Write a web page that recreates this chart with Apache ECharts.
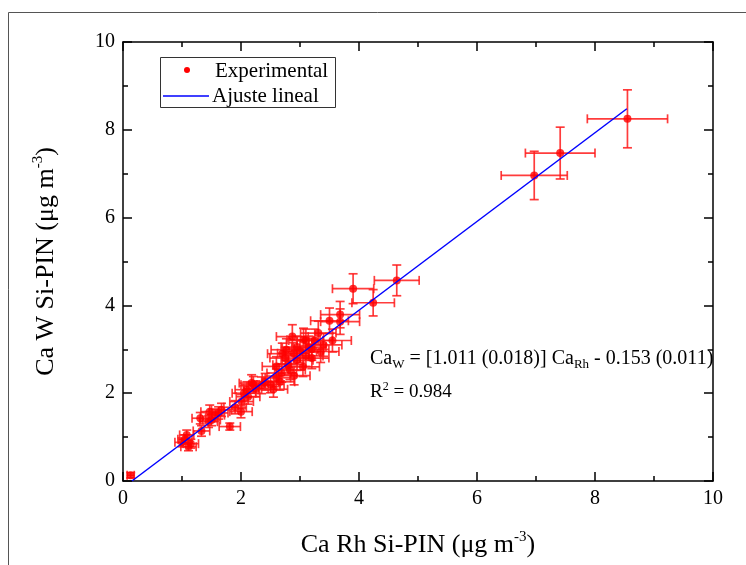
<!DOCTYPE html>
<html>
<head>
<meta charset="utf-8">
<script src="https://cdn.jsdelivr.net/npm/echarts@6/dist/echarts.min.js"></script>
<style>html,body{margin:0;padding:0;background:#fff;}#c{width:746px;height:565px;}</style>
</head>
<body>
<div id="c"></div>
<script>
// Experimental points: Ca Rh Si-PIN (x) vs Ca W Si-PIN (y), with errors
const xVals = [0.13,1.00,1.08,1.11,1.05,1.15,1.33,1.31,1.47,1.56,1.50,1.67,1.45,1.81,1.90,2.00,2.01,2.10,2.18,2.12,2.05,2.41,2.55,2.60,2.69,2.66,2.83,2.87,2.77,2.89,2.21,2.50,2.35,2.75,2.95,3.00,3.06,3.10,3.15,3.20,3.25,3.31,3.35,3.40,3.50,3.68,3.68,3.55,3.90,4.24,4.64,6.97,7.41,8.55,2.95,3.05,2.90,3.20,2.70,3.10,2.60,2.80,1.62,2.25];
const yVals = [0.13,0.88,1.05,0.78,0.95,0.85,1.14,1.43,1.58,1.50,1.39,1.62,1.35,1.24,1.68,1.58,1.81,2.08,2.23,1.92,2.00,2.26,2.09,2.61,2.46,2.26,2.53,3.29,2.99,2.91,2.19,2.20,2.18,2.80,3.05,2.95,3.22,2.85,3.05,3.00,3.20,3.37,2.95,3.10,3.65,3.79,3.63,3.20,4.38,4.06,4.57,6.96,7.47,8.25,2.75,2.60,2.40,2.80,2.90,3.20,2.35,2.65,1.55,2.10];
const xErr = [0.06,0.12,0.12,0.13,0.12,0.13,0.14,0.14,0.15,0.16,0.15,0.17,0.15,0.18,0.19,0.19,0.20,0.20,0.21,0.20,0.20,0.23,0.24,0.24,0.25,0.25,0.26,0.27,0.26,0.27,0.21,0.23,0.22,0.26,0.27,0.28,0.28,0.29,0.29,0.29,0.30,0.30,0.31,0.31,0.32,0.33,0.33,0.32,0.35,0.36,0.38,0.56,0.59,0.68,0.27,0.28,0.27,0.29,0.25,0.29,0.24,0.26,0.16,0.21];
const yErr = [0.06,0.10,0.11,0.09,0.10,0.10,0.12,0.13,0.15,0.14,0.13,0.15,0.13,0.08,0.15,0.14,0.16,0.18,0.19,0.17,0.17,0.19,0.18,0.22,0.21,0.19,0.22,0.27,0.25,0.24,0.19,0.19,0.19,0.24,0.25,0.25,0.26,0.24,0.25,0.25,0.26,0.27,0.25,0.26,0.29,0.30,0.29,0.26,0.34,0.30,0.35,0.55,0.59,0.66,0.23,0.22,0.21,0.24,0.24,0.26,0.20,0.23,0.14,0.18];
// Linear fit line endpoints
const fitX = [0.151, 8.54];
const fitY = [0.0, 8.48];
// Axis ticks
const axisMin = 0, axisMax = 10, axisInterval = 2;

const serif = 'Liberation Serif, Times New Roman, serif';
const chart = echarts.init(document.getElementById('c'), null, {renderer: 'canvas'});

const points = xVals.map((x, i) => [x, yVals[i]]);
const errData = xVals.map((x, i) => [x, yVals[i], xErr[i], yErr[i]]);
const fitData = fitX.map((x, i) => [x, fitY[i]]);

function renderErr(params, api) {
  const x = api.value(0), y = api.value(1), ex = api.value(2), ey = api.value(3);
  const c = api.coord([x, y]);
  const l = api.coord([x - ex, y]);
  const r = api.coord([x + ex, y]);
  const t = api.coord([x, y + ey]);
  const b = api.coord([x, y - ey]);
  const cap = 4.5;
  const style = {stroke: '#ff1a1a', lineWidth: 1.7, opacity: 0.85};
  const ln = (x1, y1, x2, y2) => ({type: 'line', shape: {x1, y1, x2, y2}, style});
  return {
    type: 'group',
    children: [
      ln(l[0], c[1], r[0], c[1]),
      ln(l[0], c[1] - cap, l[0], c[1] + cap),
      ln(r[0], c[1] - cap, r[0], c[1] + cap),
      ln(c[0], t[1], c[0], b[1]),
      ln(c[0] - cap, t[1], c[0] + cap, t[1]),
      ln(c[0] - cap, b[1], c[0] + cap, b[1])
    ]
  };
}

const axisCommon = {
  type: 'value', min: axisMin, max: axisMax, interval: axisInterval,
  axisLine: {show: true, onZero: false, lineStyle: {color: '#000', width: 1.5}},
  axisTick: {show: true, inside: true, length: 9, lineStyle: {color: '#000', width: 1.5}},
  minorTick: {show: true, splitNumber: 2, length: 5, lineStyle: {color: '#000', width: 1.5}},
  splitLine: {show: false},
  axisLabel: {show: true, fontFamily: serif, fontSize: 20, color: '#000', margin: 8}
};

const nameRich = {
  a: {fontFamily: serif, fontSize: 26, color: '#000'},
  sup: {fontFamily: serif, fontSize: 15, color: '#000', verticalAlign: 'top', padding: [0, 0, 15, 0]}
};

const option = {
  backgroundColor: '#fff',
  animation: false,
  grid: {left: 123, right: 33, top: 42, bottom: 84, containLabel: false},
  xAxis: [
    Object.assign({}, axisCommon, {
      position: 'bottom',
      name: '{a|Ca Rh Si-PIN (μg m}{sup|-3}{a|)}',
      nameLocation: 'middle', nameGap: 49,
      nameTextStyle: {rich: nameRich}
    }),
    Object.assign({}, axisCommon, {position: 'top', axisLabel: {show: false}})
  ],
  yAxis: [
    Object.assign({}, axisCommon, {
      position: 'left',
      name: '{a|Ca W Si-PIN (μg m}{sup|-3}{a|)}',
      nameLocation: 'middle', nameGap: 62, nameRotate: 90,
      nameTextStyle: {rich: nameRich}
    }),
    Object.assign({}, axisCommon, {position: 'right', axisLabel: {show: false}})
  ],
  series: [
    {
      name: 'err', type: 'custom', renderItem: renderErr, data: errData,
      xAxisIndex: 0, yAxisIndex: 0, z: 2, silent: true
    },
    {
      name: 'Experimental', type: 'scatter', data: points, symbol: 'circle', symbolSize: 8,
      itemStyle: {color: '#ff0000'}, z: 3
    },
    {
      name: 'Ajuste lineal', type: 'line', data: fitData, showSymbol: false, symbol: 'none',
      lineStyle: {color: '#0000ff', width: 1.5}, z: 4
    }
  ],
  graphic: [
    {type: 'rect', shape: {x: 8.5, y: 12.5, width: 760, height: 600}, style: {fill: 'none', stroke: '#555', lineWidth: 1}, silent: true, z: -10},
    {type: 'rect', shape: {x: 160.5, y: 57.5, width: 175, height: 50}, style: {fill: '#fff', stroke: '#333', lineWidth: 1}, z: 10},
    {type: 'circle', shape: {cx: 187, cy: 70, r: 3}, style: {fill: '#ff0000'}, z: 11},
    {type: 'text', x: 215, y: 71, style: {text: 'Experimental', fontFamily: serif, fontSize: 21, fill: '#000', verticalAlign: 'middle'}, z: 11},
    {type: 'line', shape: {x1: 163, y1: 96, x2: 209, y2: 96}, style: {stroke: '#0000ff', lineWidth: 1.5}, z: 11},
    {type: 'text', x: 212, y: 96, style: {text: 'Ajuste lineal', fontFamily: serif, fontSize: 21, fill: '#000', verticalAlign: 'middle'}, z: 11},
    {type: 'text', x: 370, y: 359, style: {
      text: '{a|Ca}{s|W}{a| = [1.011 (0.018)] Ca}{s|Rh}{a| - 0.153 (0.011)}',
      verticalAlign: 'middle',
      rich: {
        a: {fontFamily: serif, fontSize: 20, color: '#000'},
        s: {fontFamily: serif, fontSize: 13, color: '#000', verticalAlign: 'bottom', padding: [11, 0, 0, 0]}
      }
    }, z: 11},
    {type: 'text', x: 370, y: 392, style: {
      text: '{a|R}{p|2}{a| = 0.984}',
      verticalAlign: 'middle',
      rich: {
        a: {fontFamily: serif, fontSize: 19, color: '#000'},
        p: {fontFamily: serif, fontSize: 12, color: '#000', verticalAlign: 'top', padding: [0, 0, 10, 0]}
      }
    }, z: 11}
  ]
};
chart.setOption(option);
</script>
</body>
</html>
